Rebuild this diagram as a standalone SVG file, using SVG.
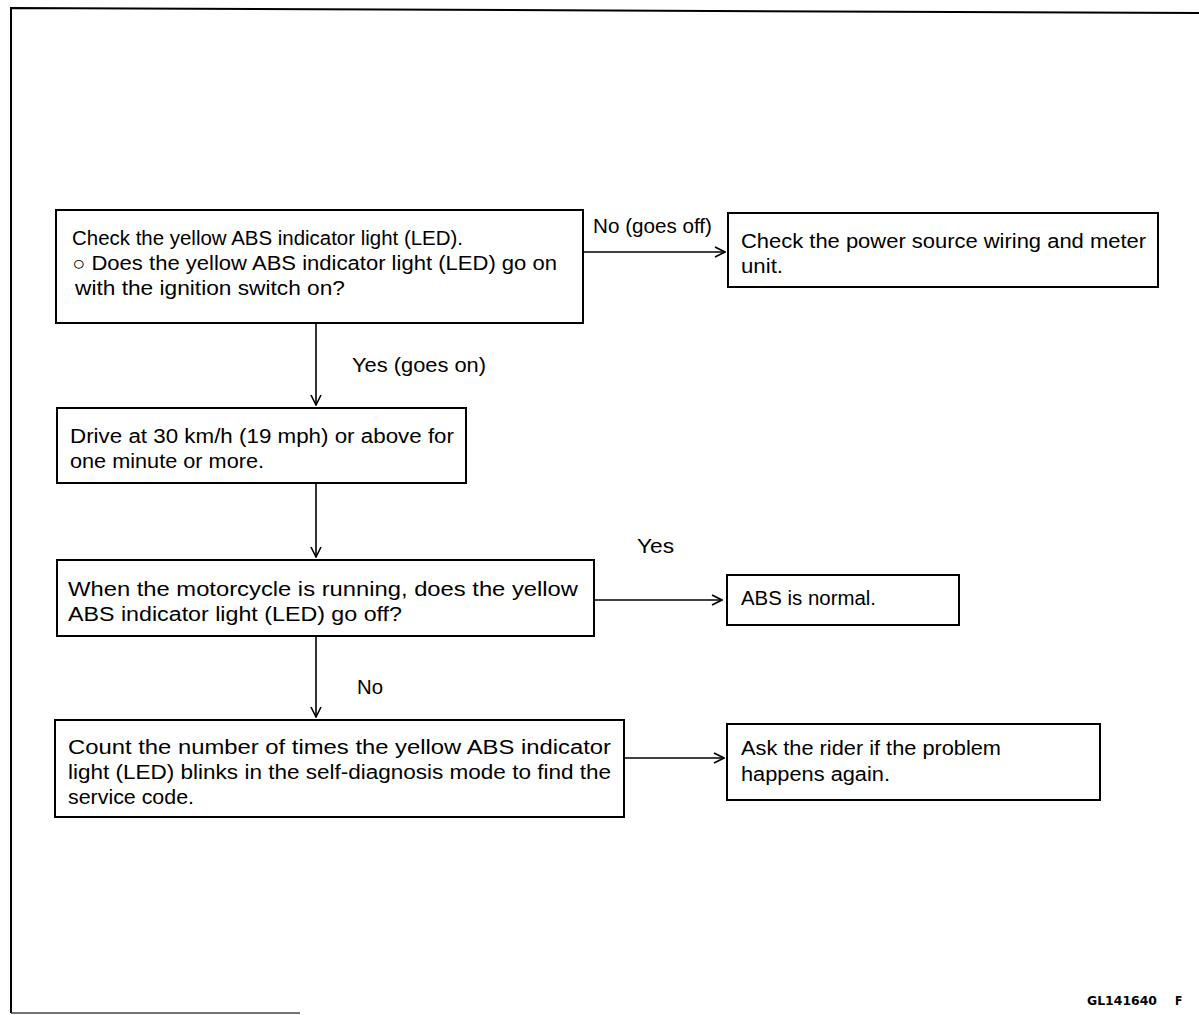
<svg xmlns="http://www.w3.org/2000/svg" width="1199" height="1015" viewBox="0 0 1199 1015">
<defs>
<style>
.box{fill:#fff;stroke:#000;stroke-width:2}
.t{font-family:"Liberation Sans",Arial,sans-serif;font-size:19.5px;fill:#000}
.lbl{font-family:"Liberation Sans",Arial,sans-serif;font-size:19.5px;fill:#000}
.ln{stroke:#000;stroke-width:1.6;fill:none}
.ft{font-family:"Liberation Sans Narrow","DejaVu Sans Condensed",sans-serif;font-size:12px;font-weight:bold;fill:#000}
</style>
<marker id="ah" viewBox="0 0 12 12" refX="11" refY="6" markerWidth="12" markerHeight="12" markerUnits="userSpaceOnUse" orient="auto">
<path d="M1,1 L11,6 L1,11" fill="none" stroke="#000" stroke-width="1.6"/>
</marker>
</defs>
<rect width="1199" height="1015" fill="#fff"/>
<g id="frame">
<path d="M11,1013 L11,8 L1199,13" fill="none" stroke="#000" stroke-width="2"/>
<line x1="11" y1="1013" x2="300" y2="1013" stroke="#444" stroke-width="1.5"/>
</g>
<g id="connectors">
<line class="ln" x1="583" y1="252" x2="725" y2="252" marker-end="url(#ah)"/>
<line class="ln" x1="316" y1="323" x2="316" y2="405" marker-end="url(#ah)"/>
<line class="ln" x1="316" y1="483" x2="316" y2="557" marker-end="url(#ah)"/>
<line class="ln" x1="594" y1="600" x2="722" y2="600" marker-end="url(#ah)"/>
<line class="ln" x1="316" y1="636" x2="316" y2="717" marker-end="url(#ah)"/>
<line class="ln" x1="624" y1="758" x2="724" y2="758" marker-end="url(#ah)"/>
<text class="lbl" x="593" y="233" textLength="119" lengthAdjust="spacingAndGlyphs">No (goes off)</text>
<text class="lbl" x="352" y="372" textLength="134" lengthAdjust="spacingAndGlyphs">Yes (goes on)</text>
<text class="lbl" x="637" y="553" textLength="37" lengthAdjust="spacingAndGlyphs">Yes</text>
<text class="lbl" x="357" y="694" textLength="26" lengthAdjust="spacingAndGlyphs">No</text>
</g>
<g id="n1">
<rect class="box" x="56" y="210" width="527" height="113"/>
<text class="t" x="72" y="245" textLength="391" lengthAdjust="spacingAndGlyphs">Check the yellow ABS indicator light (LED).</text>
<text class="t" x="72" y="270" textLength="485" lengthAdjust="spacingAndGlyphs">○ Does the yellow ABS indicator light (LED) go on</text>
<text class="t" x="75" y="295" textLength="270" lengthAdjust="spacingAndGlyphs">with the ignition switch on?</text>
</g>
<g id="n2">
<rect class="box" x="728" y="213" width="430" height="74"/>
<text class="t" x="741" y="248" textLength="405" lengthAdjust="spacingAndGlyphs">Check the power source wiring and meter</text>
<text class="t" x="741" y="273" textLength="42" lengthAdjust="spacingAndGlyphs">unit.</text>
</g>
<g id="n3">
<rect class="box" x="57" y="408" width="409" height="75"/>
<text class="t" x="70" y="443" textLength="384" lengthAdjust="spacingAndGlyphs">Drive at 30 km/h (19 mph) or above for</text>
<text class="t" x="70" y="468" textLength="194" lengthAdjust="spacingAndGlyphs">one minute or more.</text>
</g>
<g id="n4">
<rect class="box" x="57" y="560" width="537" height="76"/>
<text class="t" x="68" y="596" textLength="510" lengthAdjust="spacingAndGlyphs">When the motorcycle is running, does the yellow</text>
<text class="t" x="68" y="621" textLength="334" lengthAdjust="spacingAndGlyphs">ABS indicator light (LED) go off?</text>
</g>
<g id="n5">
<rect class="box" x="727" y="575" width="232" height="50"/>
<text class="t" x="741" y="605" textLength="135" lengthAdjust="spacingAndGlyphs">ABS is normal.</text>
</g>
<g id="n6">
<rect class="box" x="55" y="720" width="569" height="97"/>
<text class="t" x="68" y="754" textLength="543" lengthAdjust="spacingAndGlyphs">Count the number of times the yellow ABS indicator</text>
<text class="t" x="68" y="779" textLength="543" lengthAdjust="spacingAndGlyphs">light (LED) blinks in the self-diagnosis mode to find the</text>
<text class="t" x="68" y="804" textLength="126" lengthAdjust="spacingAndGlyphs">service code.</text>
</g>
<g id="n7">
<rect class="box" x="727" y="724" width="373" height="76"/>
<text class="t" x="741" y="755" textLength="260" lengthAdjust="spacingAndGlyphs">Ask the rider if the problem</text>
<text class="t" x="741" y="781" textLength="149" lengthAdjust="spacingAndGlyphs">happens again.</text>
</g>
<g id="footer">
<text class="ft" x="1087" y="1005" textLength="70" lengthAdjust="spacingAndGlyphs">GL141640</text>
<text class="ft" x="1175" y="1005">F</text>
</g>
</svg>
